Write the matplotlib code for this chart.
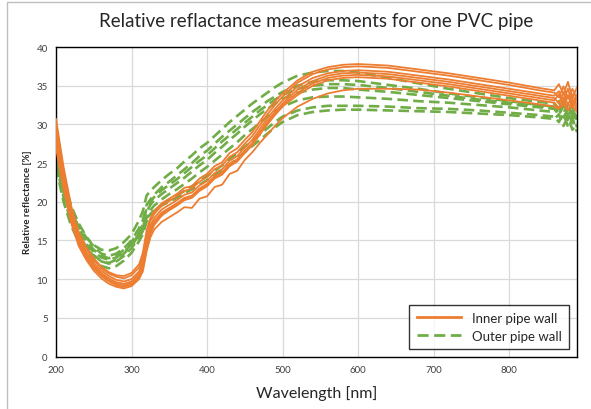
import matplotlib
matplotlib.use("Agg")
import matplotlib.pyplot as plt
from matplotlib.patches import Rectangle
from matplotlib.lines import Line2D

plt.rcParams['font.family'] = ['Lato', 'DejaVu Sans']

wavelength = [200, 205, 210, 220, 230, 240, 250, 260, 270, 280, 290, 300, 310, 315, 320, 325, 330,
              340, 350, 360, 370, 380, 390, 400, 410, 420, 430, 440, 450, 460, 470, 480, 490, 500,
              520, 540, 560, 580, 600, 640, 680, 720, 760, 800, 840, 860, 866, 872, 878, 884, 890]

inner_a = [30.7, 27.6, 24.5, 19.5, 16.1, 14.1, 12.7, 11.6, 10.9, 10.5, 10.4, 10.8, 11.9, 13.4, 16.3, 17.9, 18.8,
           19.8, 20.4, 21.0, 21.8, 22.0, 23.0, 23.6, 24.6, 25.1, 26.3, 26.9, 28.0, 29.0, 30.4, 31.8, 33.0, 34.0,
           35.7, 36.8, 37.4, 37.7, 37.8, 37.6, 37.1, 36.6, 36.0, 35.4, 34.7, 34.4, 35.2, 33.9, 35.5, 33.4, 34.8]
inner_b = [30.1, 27.0, 24.0, 19.1, 15.8, 13.9, 12.5, 11.4, 10.7, 10.3, 10.1, 10.5, 11.5, 12.9, 15.8, 17.5, 18.4,
           19.5, 20.1, 20.7, 21.4, 21.7, 22.6, 23.2, 24.2, 24.7, 25.8, 26.4, 27.5, 28.5, 29.9, 31.3, 32.5, 33.6,
           35.4, 36.5, 37.1, 37.4, 37.5, 37.3, 36.8, 36.3, 35.7, 35.1, 34.4, 34.1, 33.5, 34.9, 33.3, 34.6, 33.2]
inner_c = [29.5, 26.3, 23.4, 18.6, 15.4, 13.5, 12.1, 11.1, 10.4, 9.9, 9.7, 10.0, 11.0, 12.3, 15.2, 16.9, 17.9,
           19.0, 19.6, 20.2, 20.9, 21.2, 22.1, 22.7, 23.7, 24.2, 25.3, 25.9, 27.0, 28.0, 29.4, 30.8, 32.0, 33.1,
           34.9, 36.0, 36.6, 36.9, 37.0, 36.8, 36.3, 35.8, 35.2, 34.6, 34.0, 33.7, 34.3, 33.0, 34.6, 32.6, 33.8]
inner_d = [28.9, 25.8, 23.0, 18.3, 15.1, 13.2, 11.8, 10.8, 10.1, 9.6, 9.4, 9.7, 10.7, 11.9, 14.8, 16.5, 17.5,
           18.6, 19.2, 19.8, 20.5, 20.8, 21.7, 22.3, 23.3, 23.8, 24.9, 25.5, 26.6, 27.6, 29.0, 30.4, 31.6, 32.7,
           34.5, 35.6, 36.3, 36.6, 36.7, 36.5, 36.0, 35.5, 34.9, 34.3, 33.7, 33.4, 32.7, 34.1, 32.5, 33.9, 32.4]
inner_e = [28.3, 25.3, 22.6, 18.0, 14.9, 13.0, 11.6, 10.6, 9.9, 9.4, 9.2, 9.5, 10.4, 11.6, 14.4, 16.1, 17.2,
           18.4, 19.1, 19.7, 20.4, 20.7, 21.6, 22.2, 23.2, 23.7, 24.8, 25.4, 26.5, 27.5, 28.9, 30.2, 31.4, 32.5,
           34.1, 35.3, 36.0, 36.3, 36.4, 36.2, 35.7, 35.2, 34.6, 34.0, 33.4, 33.1, 33.9, 32.4, 33.8, 32.2, 33.4]
inner_f = [27.6, 24.8, 22.2, 17.7, 14.6, 12.8, 11.4, 10.4, 9.7, 9.2, 9.0, 9.3, 10.2, 11.3, 14.0, 15.8, 17.0,
           18.2, 18.9, 19.5, 20.2, 20.5, 21.4, 22.0, 23.0, 23.5, 24.6, 25.2, 26.3, 27.3, 28.7, 30.0, 31.2, 32.3,
           33.8, 35.0, 35.7, 36.0, 36.1, 35.9, 35.4, 34.9, 34.3, 33.7, 33.1, 32.8, 32.1, 33.5, 31.8, 33.2, 31.9]
inner_g = [27.0, 24.2, 21.7, 17.3, 14.3, 12.5, 11.1, 10.1, 9.4, 9.0, 8.8, 9.1, 10.0, 11.0, 13.6, 15.4, 16.4,
           17.4, 18.0, 18.6, 19.3, 19.2, 20.4, 20.7, 21.9, 22.2, 23.6, 24.0, 25.4, 26.4, 27.6, 28.7, 29.8, 30.8,
           32.3, 33.3, 34.0, 34.4, 34.6, 34.6, 34.5, 34.1, 33.6, 33.1, 32.6, 32.3, 32.0, 32.6, 31.8, 32.4, 31.6]

outer_a = [27.5, 24.5, 22.0, 18.8, 16.8, 15.4, 14.4, 13.8, 13.7, 14.0, 14.8, 15.8, 17.6, 18.8, 20.8, 21.4, 21.9,
           22.8, 23.6, 24.3, 25.2, 26.0, 26.9, 27.6, 28.5, 29.4, 30.3, 31.1, 31.9, 32.7, 33.4, 34.1, 34.8, 35.4,
           36.3, 36.7, 36.9, 36.9, 36.7, 36.0, 35.3, 34.6, 34.0, 33.4, 32.9, 32.7, 32.0, 33.1, 31.6, 32.4, 30.8]
outer_b = [29.0, 25.8, 23.0, 19.5, 17.2, 15.5, 14.2, 13.3, 13.0, 13.3, 14.0, 15.0, 16.6, 17.6, 19.6, 20.3, 20.9,
           21.9, 22.6, 23.4, 24.2, 25.0, 25.9, 26.6, 27.5, 28.4, 29.2, 30.0, 30.8, 31.6, 32.3, 33.0, 33.6, 34.2,
           35.0, 35.5, 35.7, 35.7, 35.6, 35.1, 34.6, 34.0, 33.5, 33.0, 32.5, 32.3, 33.0, 31.5, 32.6, 31.0, 32.0]
outer_c = [28.0, 25.0, 22.5, 19.0, 16.5, 14.9, 13.8, 13.0, 12.7, 13.0, 13.8, 14.8, 16.2, 17.0, 19.2, 20.0, 20.6,
           21.5, 22.2, 22.9, 23.7, 24.5, 25.3, 26.0, 26.9, 27.8, 28.6, 29.4, 30.2, 31.0, 31.8, 32.5, 33.2, 33.8,
           34.6, 35.0, 35.2, 35.2, 35.1, 34.7, 34.2, 33.7, 33.2, 32.8, 32.4, 32.1, 31.5, 32.7, 31.1, 32.2, 30.4]
outer_d = [26.0, 23.5, 21.2, 18.0, 15.9, 14.5, 13.5, 12.8, 12.5, 12.8, 13.5, 14.5, 15.9, 16.6, 18.7, 19.6, 20.2,
           21.0, 21.7, 22.4, 23.1, 23.9, 24.7, 25.4, 26.3, 27.1, 28.0, 28.8, 29.7, 30.5, 31.3, 32.0, 32.7, 33.3,
           34.1, 34.5, 34.7, 34.7, 34.5, 34.2, 33.8, 33.4, 33.0, 32.6, 32.2, 32.0, 31.2, 32.4, 30.6, 31.8, 29.6]
outer_e = [25.0, 22.8, 20.6, 17.4, 15.3, 13.9, 13.0, 12.3, 12.0, 12.3, 13.0, 14.0, 15.4, 16.2, 18.0, 18.9, 19.5,
           20.3, 21.0, 21.6, 22.3, 23.0, 23.8, 24.5, 25.3, 26.1, 26.9, 27.7, 28.6, 29.4, 30.2, 31.0, 31.7, 32.3,
           33.1, 33.5, 33.6, 33.6, 33.5, 33.3, 33.0, 32.8, 32.5, 32.2, 31.8, 31.6, 32.2, 30.9, 31.9, 30.2, 31.2]
outer_f = [24.5, 22.2, 20.0, 16.9, 14.8, 13.4, 12.4, 11.7, 11.4, 11.7, 12.4, 13.4, 14.9, 15.8, 17.4, 18.2, 18.8,
           19.6, 20.2, 20.8, 21.4, 22.0, 22.7, 23.3, 24.0, 24.7, 25.5, 26.3, 27.1, 27.9, 28.7, 29.5, 30.3, 31.0,
           31.8, 32.2, 32.4, 32.4, 32.4, 32.3, 32.1, 32.0, 31.8, 31.5, 31.2, 31.0, 30.3, 31.4, 29.7, 30.8, 29.0]
outer_g = [26.5, 24.0, 21.6, 18.2, 15.8, 14.2, 13.1, 12.3, 12.1, 12.5, 13.3, 14.3, 15.7, 16.5, 17.9, 18.4, 18.9,
           19.5, 20.0, 20.5, 21.1, 21.6, 22.2, 22.8, 23.4, 24.1, 24.8, 25.6, 26.4, 27.2, 28.0, 28.8, 29.6, 30.3,
           31.2, 31.6, 31.8, 31.9, 31.9, 31.8, 31.7, 31.6, 31.4, 31.2, 30.9, 30.7, 31.3, 29.8, 30.9, 29.3, 30.2]

inner_series = [inner_a, inner_b, inner_c, inner_d, inner_e, inner_f, inner_g]
outer_series = [outer_a, outer_b, outer_c, outer_d, outer_e, outer_f, outer_g]

x_ticks = [200, 300, 400, 500, 600, 700, 800]
y_ticks = [0, 5, 10, 15, 20, 25, 30, 35, 40]
title = "Relative reflactance measurements for one PVC pipe"
x_label = "Wavelength [nm]"
y_label = "Relative reflectance [%]"
legend_labels = ["Inner pipe wall", "Outer pipe wall"]

orange = "#ED7D31"
green = "#70AD47"
dash = (0, (4, 2))

W, H = 591, 410
fig = plt.figure(figsize=(W / 100, H / 100), dpi=100)
ax = fig.add_axes([56 / W, 1 - 357.5 / H, (577 - 56) / W, (357.5 - 48) / H])

for s in inner_series:
    ax.plot(wavelength, s, color=orange, lw=1.3, solid_joinstyle='round', zorder=3)
for s in outer_series:
    ax.plot(wavelength, s, color=green, lw=1.9, linestyle=dash, zorder=2)

ax.set_xlim(200, 890)
ax.set_ylim(0, 40)
ax.set_xticks(x_ticks)
ax.set_yticks(y_ticks)
ax.grid(True, color="#D9D9D9", lw=0.9)
ax.set_axisbelow(True)
ax.tick_params(length=0, labelsize=7, colors="#404040", pad=6)
for sp in ax.spines.values():
    sp.set_color("black")
    sp.set_linewidth(1.0)

ax.set_xlabel(x_label, fontsize=11.5, color="#262626", labelpad=8)
ax.set_ylabel(y_label, fontsize=7, fontweight='bold', color="#262626", labelpad=3)
fig.text(0.5 * (56 + 577) / W, 1 - 22 / H, title, ha='center', va='center',
         fontsize=13.5, color="#262626")

handles = [Line2D([0], [0], color=orange, lw=2),
           Line2D([0], [0], color=green, lw=2, linestyle=dash)]
leg = ax.legend(handles, legend_labels, loc='lower right', bbox_to_anchor=(0.985, 0.024),
                borderaxespad=0, fontsize=9.5, frameon=True, fancybox=False, edgecolor='black',
                handlelength=3.4, borderpad=0.55, labelspacing=0.45, handletextpad=0.8)
leg.get_frame().set_linewidth(1.0)
for t in leg.get_texts():
    t.set_color("#262626")

fig.patches.append(Rectangle((7 / W, -0.1), 1.2, 1.1 - 3 / H, transform=fig.transFigure,
                             fill=False, edgecolor="#BFBFBF", lw=1.0))

fig.savefig("out.png", dpi=100)
